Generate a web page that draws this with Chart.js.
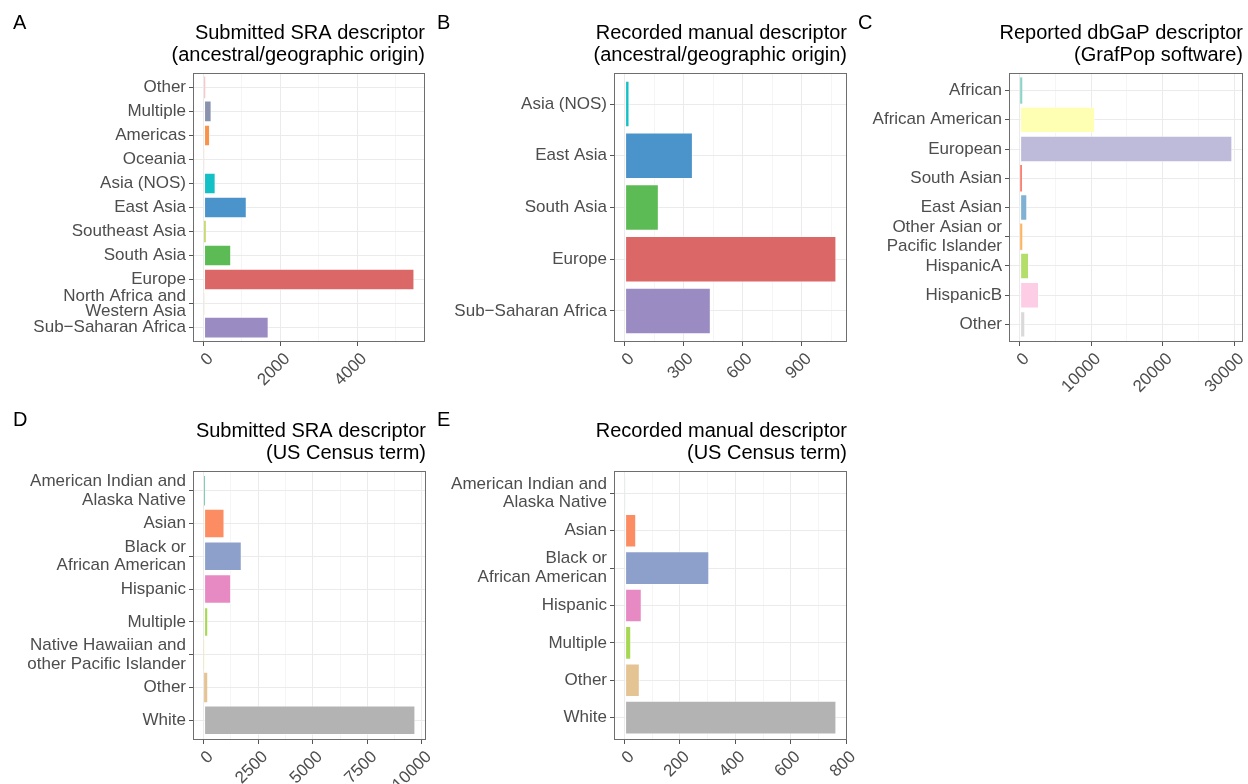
<!DOCTYPE html>
<html>
<head>
<meta charset="utf-8">
<script src="https://cdn.jsdelivr.net/npm/chart.js@4.4.1/dist/chart.umd.min.js"></script>
<style>
  html, body { margin: 0; padding: 0; background: #ffffff; }
  body { width: 1248px; height: 784px; position: relative; overflow: hidden; }
  canvas { position: absolute; }
</style>
</head>
<body>
<script>
// ---- A: submitted SRA descriptor, ancestral/geographic origin ----
const originSubmittedCats = ['Other', 'Multiple', 'Americas', 'Oceania', 'Asia (NOS)', 'East Asia',
  'Southeast Asia', 'South Asia', 'Europe', 'North Africa and\nWestern Asia', 'Sub\u2212Saharan Africa'];
const originSubmittedCounts = [45, 210, 170, 20, 315, 1125, 60, 720, 5490, 25, 1695];
const originSubmittedColors = ['#F9C6CA', '#8A93AE', '#F7934C', '#EFE6CF', '#13C0C6', '#4B93CB',
  '#C8D86E', '#5DBB55', '#DB6767', '#F8EACB', '#9A8BC2'];
const originSubmittedTicks = [0, 2000, 4000];

// ---- B: recorded manual descriptor, ancestral/geographic origin ----
const originRecordedCats = ['Asia (NOS)', 'East Asia', 'South Asia', 'Europe', 'Sub\u2212Saharan Africa'];
const originRecordedCounts = [25, 347, 174, 1076, 438];
const originRecordedColors = ['#13C0C6', '#4B93CB', '#5DBB55', '#DB6767', '#9A8BC2'];
const originRecordedTicks = [0, 300, 600, 900];

// ---- C: reported dbGaP descriptor (GrafPop) ----
const grafpopCats = ['African', 'African American', 'European', 'South Asian', 'East Asian',
  'Other Asian or\nPacific Islander', 'HispanicA', 'HispanicB', 'Other'];
const grafpopCounts = [370, 10550, 29730, 330, 1070, 370, 1310, 2710, 790];
const grafpopColors = ['#8DD3C7', '#FFFFB3', '#BEBADA', '#FB8072', '#80B1D3', '#FDB462',
  '#B3DE69', '#FCCDE5', '#D9D9D9'];
const grafpopTicks = [0, 10000, 20000, 30000];

// ---- D: submitted SRA descriptor, US Census term ----
const censusSubmittedCats = ['American Indian and\nAlaska Native', 'Asian', 'Black or\nAfrican American',
  'Hispanic', 'Multiple', 'Native Hawaiian and\nother Pacific Islander', 'Other', 'White'];
const censusSubmittedCounts = [60, 958, 1748, 1262, 213, 15, 167, 9700];
const censusSubmittedColors = ['#66C2A5', '#FC8D62', '#8DA0CB', '#E78AC3', '#A6D854', '#FFD92F',
  '#E5C494', '#B3B3B3'];
const censusSubmittedTicks = [0, 2500, 5000, 7500, 10000];

// ---- E: recorded manual descriptor, US Census term ----
const censusRecordedCats = ['American Indian and\nAlaska Native', 'Asian', 'Black or\nAfrican American',
  'Hispanic', 'Multiple', 'Other', 'White'];
const censusRecordedCounts = [2, 42, 306, 62, 24, 55, 765];
const censusRecordedColors = ['#66C2A5', '#FC8D62', '#8DA0CB', '#E78AC3', '#A6D854', '#E5C494', '#B3B3B3'];
const censusRecordedTicks = [0, 200, 400, 600, 800];

const FONT = "'Liberation Sans', Arial, Helvetica, sans-serif";
const RIGHT_MARGIN = 12; // room for the last rotated tick label

// panel frame and panel letter
const panelDecor = {
  id: 'panelDecor',
  afterDatasetsDraw(chart) {
    const { ctx, chartArea: a } = chart;
    ctx.save();
    ctx.strokeStyle = '#6E6E6E';
    ctx.lineWidth = 1;
    ctx.strokeRect(Math.round(a.left) + 0.5, Math.round(a.top) + 0.5,
      Math.round(a.right - a.left) - 1, Math.round(a.bottom - a.top) - 1);
    ctx.restore();
  },
  afterDraw(chart, args, opts) {
    if (!opts.letter) return;
    const ctx = chart.ctx;
    ctx.save();
    ctx.fillStyle = '#000000';
    ctx.font = '20px ' + FONT;
    ctx.textAlign = 'left';
    ctx.textBaseline = 'alphabetic';
    ctx.fillText(opts.letter, opts.x, opts.y);
    ctx.restore();
  }
};

function makePanel(p) {
  const w = p.plotRight - p.left + RIGHT_MARGIN;
  const cv = document.createElement('canvas');
  cv.width = w; cv.height = p.height;
  cv.style.left = p.left + 'px'; cv.style.top = p.top + 'px';
  cv.style.width = w + 'px'; cv.style.height = p.height + 'px';
  document.body.appendChild(cv);

  const n = p.cats.length;
  const vmax = Math.max(...p.values);
  const xmin = -0.05 * vmax, xmax = 1.05 * vmax;
  const step = p.ticks[1] - p.ticks[0];
  const minor = p.ticks.map(t => t + step / 2).filter(v => v > xmin && v < xmax);
  const major = p.ticks.filter(v => v >= xmin && v <= xmax);
  const xTickVals = major.concat(minor).sort((a, b) => a - b);

  new Chart(cv, {
    type: 'bar',
    data: {
      datasets: [{
        data: p.values.map((v, i) => ({ x: v, y: i + 1 })),
        backgroundColor: p.colors,
        borderColor: 'rgba(255,255,255,0.55)',
        borderWidth: ctx => (ctx.parsed && ctx.parsed.x / vmax > 0.02 ? 1 : 0),
        borderSkipped: false,
        categoryPercentage: 1,
        barPercentage: 0.9
      }]
    },
    options: {
      indexAxis: 'y',
      responsive: false,
      animation: false,
      devicePixelRatio: 1,
      layout: { padding: { left: 0, right: RIGHT_MARGIN, top: 0, bottom: 0 } },
      plugins: {
        legend: { display: false },
        tooltip: { enabled: false },
        title: {
          display: true,
          text: p.title,
          align: 'end',
          color: '#000000',
          font: { family: FONT, size: 20, weight: 'normal', lineHeight: 1.1 },
          padding: { top: 22, bottom: 7 }
        },
        panelDecor: { letter: p.letter, x: p.letterX, y: p.letterY }
      },
      scales: {
        x: {
          type: 'linear',
          min: xmin, max: xmax, bounds: 'data', offset: false,
          afterBuildTicks: s => { s.ticks = xTickVals.map(v => ({ value: v })); },
          afterFit: s => { s.height = p.height - 342; s.paddingLeft = 0; s.paddingRight = 0; },
          border: { display: false },
          grid: {
            offset: false,
            color: c => (c.tick && major.includes(c.tick.value) ? '#EBEBEB' : '#F5F5F5'),
            tickColor: c => (c.tick && major.includes(c.tick.value) ? '#555555' : 'rgba(0,0,0,0)'),
            tickLength: 4,
            lineWidth: 1
          },
          ticks: {
            autoSkip: false,
            minRotation: 45, maxRotation: 45,
            padding: 3,
            labelOffset: 7,
            color: '#4D4D4D',
            font: { family: FONT, size: 17 },
            callback: v => (major.includes(v) ? String(v) : '')
          }
        },
        y: {
          type: 'linear',
          reverse: true,
          offset: false,
          min: 0.4, max: n + 0.6, bounds: 'data',
          afterBuildTicks: s => { s.ticks = p.cats.map((_, i) => ({ value: i + 1 })); },
          afterFit: s => { s.width = p.axisWidth; },
          border: { display: false },
          grid: { offset: false, color: '#EBEBEB', tickColor: '#555555', tickLength: 4, lineWidth: 1 },
          ticks: {
            autoSkip: false,
            padding: 3,
            color: '#4D4D4D',
            font: { family: FONT, size: 17, lineHeight: p.labelLH },
            callback: v => p.cats[Math.round(v) - 1].split('\n')
          }
        }
      }
    },
    plugins: [panelDecor]
  });
}

makePanel({ letter: 'A', letterX: 13, letterY: 29, left: 0, top: 0, plotRight: 425, height: 398, axisWidth: 193,
  title: ['Submitted SRA descriptor', '(ancestral/geographic origin)'], labelLH: 0.9,
  cats: originSubmittedCats, values: originSubmittedCounts, colors: originSubmittedColors, ticks: originSubmittedTicks });

makePanel({ letter: 'B', letterX: 7, letterY: 29, left: 430, top: 0, plotRight: 847, height: 398, axisWidth: 184,
  title: ['Recorded manual descriptor', '(ancestral/geographic origin)'], labelLH: 1.1,
  cats: originRecordedCats, values: originRecordedCounts, colors: originRecordedColors, ticks: originRecordedTicks });

makePanel({ letter: 'C', letterX: 8, letterY: 29, left: 850, top: 0, plotRight: 1243, height: 398, axisWidth: 159,
  title: ['Reported dbGaP descriptor', '(GrafPop software)'], labelLH: 1.1,
  cats: grafpopCats, values: grafpopCounts, colors: grafpopColors, ticks: grafpopTicks });

makePanel({ letter: 'D', letterX: 13, letterY: 28, left: 0, top: 398, plotRight: 426, height: 386, axisWidth: 193,
  title: ['Submitted SRA descriptor', '(US Census term)'], labelLH: 1.1,
  cats: censusSubmittedCats, values: censusSubmittedCounts, colors: censusSubmittedColors, ticks: censusSubmittedTicks });

makePanel({ letter: 'E', letterX: 7, letterY: 28, left: 430, top: 398, plotRight: 847, height: 386, axisWidth: 184,
  title: ['Recorded manual descriptor', '(US Census term)'], labelLH: 1.1,
  cats: censusRecordedCats, values: censusRecordedCounts, colors: censusRecordedColors, ticks: censusRecordedTicks });
</script>
</body>
</html>
